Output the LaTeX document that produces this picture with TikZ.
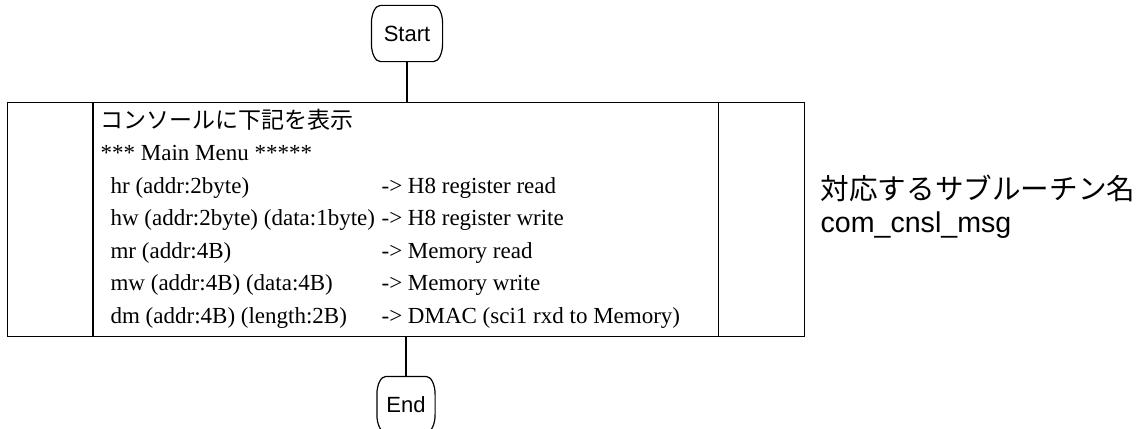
\documentclass[tikz,border=0pt]{standalone}
\usepackage{fontspec}
\setmainfont{Liberation Serif}
\newfontfamily\cjk{Noto Sans CJK JP}
\newfontfamily\sans{Liberation Sans}
% outline of a terminal node: flat top and bottom, tall elliptic corners
\newcommand\termframe[1]{%
  \draw ([xshift=9pt]#1.north west) -- ([xshift=-9pt]#1.north east)
    arc[start angle=90,end angle=0,x radius=9pt,y radius=18pt]
    -- ([yshift=18pt]#1.south east)
    arc[start angle=0,end angle=-90,x radius=9pt,y radius=18pt]
    -- ([xshift=9pt]#1.south west)
    arc[start angle=270,end angle=180,x radius=9pt,y radius=18pt]
    -- ([yshift=-18pt]#1.north west)
    arc[start angle=180,end angle=90,x radius=9pt,y radius=18pt] -- cycle;}
\begin{document}
\begin{tikzpicture}[x=1pt,y=-1pt,line width=1.2pt,
  term/.style={minimum height=55pt,inner sep=0pt,
    font=\sans\fontsize{22}{26}\selectfont},
  row/.style={anchor=base west,inner sep=0pt,font=\fontsize{23}{27}\selectfont},
  note/.style={anchor=base west,inner sep=0pt,font=\fontsize{28.6}{32}\selectfont}]
\useasboundingbox (0,0) rectangle (1139,428);

% terminals
\node[term,minimum width=70pt] (start) at (407,33.5) {Start};
\node[term,minimum width=57pt] (end) at (406,404.5) {End};
\termframe{start}
\termframe{end}

% process box with its two side bars
\node[draw,anchor=north west,inner sep=0pt,minimum width=797pt,minimum height=234pt] (proc) at (7,102) {};
\draw ([xshift=86pt]proc.north west) -- ([xshift=86pt]proc.south west);
\draw ([xshift=-87pt]proc.north east) -- ([xshift=-87pt]proc.south east);

% connectors
\draw (start.south) -- (start.south |- proc.north);
\draw (proc.south -| end.north) -- (end.north);

% box contents
\node[row] (l0) at (100,128) {\cjk コンソールに下記を表示};
\node[row] (l1) at (100,160.5) {*** Main Menu *****};
\node[row] (a1) at (110,193) {hr (addr:2byte)};
\node[row] (b1) at (381,193) {-> H8 register read};
\node[row] (a2) at (110,225.5) {hw (addr:2byte) (data:1byte)};
\node[row] (b2) at (381,225.5) {-> H8 register write};
\node[row] (a3) at (110,258) {mr (addr:4B)};
\node[row] (b3) at (381,258) {-> Memory read};
\node[row] (a4) at (110,290.5) {mw (addr:4B) (data:4B)};
\node[row] (b4) at (381,290.5) {-> Memory write};
\node[row] (a5) at (110,323) {dm (addr:4B) (length:2B)};
\node[row] (b5) at (381,323) {-> DMAC (sci1 rxd to Memory)};

% side note
\node[note] (n1) at (820,199) {\cjk 対応するサブルーチン名};
\node[note] (n2) at (820,232) {\sans com\_cnsl\_msg};
\end{tikzpicture}
\end{document}
